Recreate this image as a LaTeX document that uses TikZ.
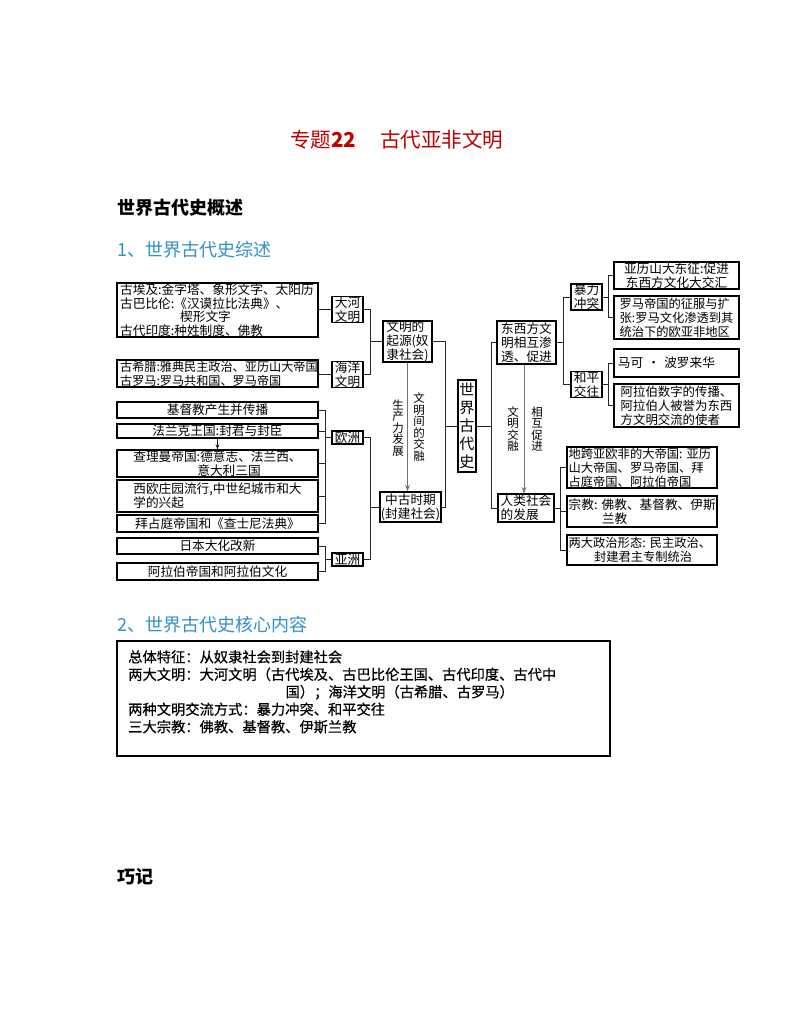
\documentclass[tikz,border=0pt]{standalone}
\usepackage{fontspec}
\setmainfont{Noto Sans CJK SC}
\newfontfamily\corefont[FakeBold=0.5]{Noto Sans CJK SC}
\usetikzlibrary{arrows.meta}
\definecolor{titlered}{RGB}{192,0,0}
\definecolor{headblue}{RGB}{50,145,195}
\begin{document}
\begin{tikzpicture}[x=0.75pt,y=-0.75pt,
  box/.style={draw=black, line width=0.8pt, inner sep=0pt, font=\fontsize{9.5}{10.4}\selectfont},
  rect/.style args={#1/#2/#3/#4}{minimum width={(#3-#1)*0.75pt}, minimum height={(#4-#2)*0.75pt}, at={({(#1+#3)/2},{(#2+#4)/2})}},
  con/.style={draw=black!85, line width=0.6pt},
  arr/.style={draw=black!55, line width=0.7pt, -{Stealth[length=5pt,width=3.5pt]}},
  vlab/.style={inner sep=0pt, align=center, font=\fontsize{8.6}{8.6}\selectfont},
  head/.style={anchor=west, inner sep=0pt, font=\fontsize{13.5}{14}\selectfont},
]
\fill[white] (0,0) rectangle (794,1028);
\useasboundingbox (0,0) rectangle (794,1028);

% ---- headings ----
\node[anchor=west, inner sep=0pt, text=titlered, font=\fontsize{15.4}{16}\selectfont] (t1) at (290,140) {专题\textbf{22}};
\node[anchor=west, inner sep=0pt, text=titlered, font=\fontsize{15.4}{16}\selectfont] (t2) at (380,140) {古代亚非文明};
\node[head, font=\bfseries\fontsize{13.5}{14}\selectfont] (h1) at (117,208) {世界古代史概述};
\node[head, text=headblue] (h2) at (117,250) {1、世界古代史综述};
\node[head, text=headblue] (h3) at (117,625) {2、世界古代史核心内容};
\node[head, font=\bfseries\fontsize{13.5}{14}\selectfont] (h4) at (117,877) {巧记};

% ---- left: ancient ----
\node[box, rect=117/283/318/337, align=left, text width=146pt, font=\fontsize{9.5}{10.1}\selectfont] (egypt)
  {古埃及:金字塔、象形文字、太阳历\\古巴比伦:《汉谟拉比法典》、\\\hspace*{45pt}楔形文字\\古代印度:种姓制度、佛教};
\node[box, rect=117/360/318/387, align=left, text width=146pt, font=\fontsize{9.1}{10.3}\selectfont] (greece)
  {古希腊:雅典民主政治、亚历山大帝国\\古罗马:罗马共和国、罗马帝国};
\node[box, rect=332/297/363/322, align=center] (dahe) {大河\\文明};
\node[box, rect=332/362/363/387, align=center] (haiyang) {海洋\\文明};
\node[box, rect=383/321/432/362, align=left] (qiyuan) {文明的\\起源(奴\\隶社会)};

% ---- left: medieval ----
\node[box, rect=117/402/318/418] (jidu) {基督教产生并传播};
\node[box, rect=117/424/318/438] (falanke) {法兰克王国:封君与封臣};
\node[box, rect=117/450/318/477, align=left] (chaliman) {查理曼帝国:德意志、法兰西、\\\hspace*{48pt}意大利三国};
\node[box, rect=117/480/318/512, align=left] (xiou) {西欧庄园流行,中世纪城市和大\\学的兴起};
\node[box, rect=117/515/318/532] (baizhanting) {拜占庭帝国和《查士尼法典》};
\node[box, rect=117/538/318/554] (riben) {日本大化改新};
\node[box, rect=117/563/318/580] (alabo) {阿拉伯帝国和阿拉伯文化};
\node[box, rect=332/431/363/444] (ouzhou) {欧洲};
\node[box, rect=332/553/363/566] (yazhou) {亚洲};
\node[box, rect=380/492/441/522, align=center] (zhonggu) {中古时期\\(封建社会)};

% ---- centre ----
\node[box, rect=458/380/476/472, align=center, font=\fontsize{11.3}{13.5}\selectfont] (world) {世\\界\\古\\代\\史};

% ---- right ----
\node[box, rect=497/321/556/364, align=left] (dongxi) {东西方文\\明相互渗\\透、促进};
\node[box, rect=498/494/554/522, align=left] (renlei) {人类社会\\的发展};
\node[box, rect=571/284/602/310, align=center] (baoli) {暴力\\冲突};
\node[box, rect=571/372/602/397, align=center] (heping) {和平\\交往};
\node[box, rect=614/262/739/289, align=center] (alex) {亚历山大东征:促进\\东西方文化大交汇};
\node[box, rect=614/296/739/339, align=left, font=\fontsize{9.2}{10.4}\selectfont] (rome) {罗马帝国的征服与扩\\张:罗马文化渗透到其\\统治下的欧亚非地区};
\node[box, rect=614/349/739/377, align=left, text width=88pt] (marco) {马可~·~波罗来华};
\node[box, rect=614/384/739/427, align=left, font=\fontsize{9.3}{10.4}\selectfont] (arabnum) {阿拉伯数字的传播、\\阿拉伯人被誉为东西\\方文明交流的使者};
\node[box, rect=567/447/717/488, align=left, text width=110pt, font=\fontsize{9.2}{10.4}\selectfont] (empire) {地跨亚欧非的大帝国:~亚历\\山大帝国、罗马帝国、拜\\占庭帝国、阿拉伯帝国};
\node[box, rect=567/496/717/527, align=left, text width=110pt] (religion) {宗教:~佛教、基督教、伊斯\\\hspace*{25pt}兰教};
\node[box, rect=567/535/717/565, align=left, text width=110pt, font=\fontsize{9.2}{10.4}\selectfont] (politics) {两大政治形态:~民主政治、\\\hspace*{19pt}封建君主专制统治};

% ---- vertical labels ----
\node[vlab] (l1) at (398,428) {生\\产\\力\\发\\展};
\node[vlab] (l2) at (419,427) {文\\明\\间\\的\\交\\融};
\node[vlab] (l3) at (513,429) {文\\明\\交\\融};
\node[vlab] (l4) at (537,429) {相\\互\\促\\进};

% ---- connectors ----
\coordinate (sA) at (370,0);
\draw[con] (dahe.west) -- (dahe.west -| egypt.east);
\draw[con] (haiyang.west) -- (haiyang.west -| greece.east);
\draw[con] (dahe.east) -- (dahe.east -| sA) -- (haiyang.east -| sA) -- (haiyang.east);
\draw[con] (qiyuan.west -| sA) -- (qiyuan.west);

\coordinate (sE) at (325,0);
\foreach \b in {jidu,falanke,chaliman,xiou,baizhanting,riben,alabo}
  \draw[con] (\b.east) -- (\b.east -| sE);
\draw[con] (jidu.east -| sE) -- (baizhanting.east -| sE);
\draw[con] (ouzhou.west -| sE) -- (ouzhou.west);
\draw[con] (riben.east -| sE) -- (alabo.east -| sE);
\draw[con] (yazhou.west -| sE) -- (yazhou.west);
\coordinate (sF) at (370,0);
\draw[con] (ouzhou.east) -- (ouzhou.east -| sF) -- (yazhou.east -| sF) -- (yazhou.east);
\draw[con] (zhonggu.west -| sF) -- (zhonggu.west);
\draw[con, -{Stealth[length=4pt,width=3pt]}] (falanke.south) -- (chaliman.north);

\coordinate (sG) at (445,0);
\draw[con] (qiyuan.east) -- (qiyuan.east -| sG) -- (zhonggu.east -| sG) -- (zhonggu.east);
\draw[con] (world.west -| sG) -- (world.west);
\draw[arr] (qiyuan.south) -- (qiyuan.south |- zhonggu.north);

\coordinate (sH) at (491,0);
\draw[con] (dongxi.west) -- (dongxi.west -| sH) -- (renlei.west -| sH) -- (renlei.west);
\draw[con] (world.east) -- (world.east -| sH);
\coordinate (aH) at (524,0);
\draw[arr] (dongxi.south -| aH) -- (renlei.north -| aH);

\coordinate (sI) at (563,0);
\draw[con] (baoli.west) -- (baoli.west -| sI) -- (heping.west -| sI) -- (heping.west);
\draw[con] (dongxi.east) -- (dongxi.east -| sI);
\coordinate (sJ) at (608,0);
\draw[con] (alex.west) -- (alex.west -| sJ) -- (rome.west -| sJ) -- (rome.west);
\draw[con] (baoli.east) -- (baoli.east -| sJ);
\draw[con] (marco.west) -- (marco.west -| sJ) -- (arabnum.west -| sJ) -- (arabnum.west);
\draw[con] (heping.east) -- (heping.east -| sJ);
\coordinate (sK) at (560,0);
\draw[con] (empire.west) -- (empire.west -| sK) -- (politics.west -| sK) -- (politics.west);
\draw[con] (religion.west -| sK) -- (religion.west);
\draw[con] (renlei.east) -- (renlei.east -| sK);

% ---- core content box ----
\node[draw=black, line width=0.8pt, inner sep=0pt, rect=117/641/610/756] (core) {};
\node[anchor=north west, inner sep=0pt, align=left, font=\corefont\fontsize{10.7}{13.1}\selectfont] (coretext) at (128,650)
  {总体特征：从奴隶社会到封建社会\\两大文明：大河文明（古代埃及、古巴比伦王国、古代印度、古代中\\\hspace*{118pt}国）；海洋文明（古希腊、古罗马）\\两种文明交流方式：暴力冲突、和平交往\\三大宗教：佛教、基督教、伊斯兰教};
\end{tikzpicture}
\end{document}
